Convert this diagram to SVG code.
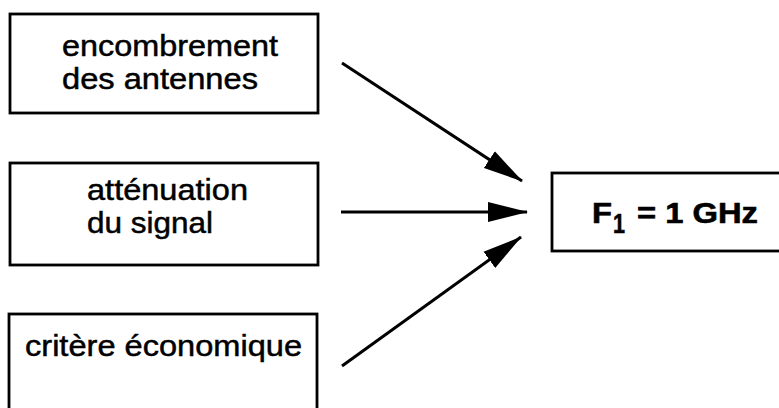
<svg xmlns="http://www.w3.org/2000/svg" width="779" height="408" viewBox="0 0 779 408">
  <style>
    .box { fill: #fff; stroke: #000; stroke-width: 2.8; }
    .lbl { font-family: "Liberation Sans", Arial, Helvetica, sans-serif; font-size: 30px; fill: #000; stroke: #000; stroke-width: 0.5; }
    .bold { font-weight: bold; font-size: 29px; stroke-width: 0.6; }
    .conn { stroke: #000; stroke-width: 3; fill: none; marker-end: url(#arrow); }
  </style>
  <defs>
    <marker id="arrow" markerUnits="userSpaceOnUse" markerWidth="40" markerHeight="22" viewBox="0 0 40 22" refX="39" refY="11" orient="auto">
      <path d="M0,1 L40,11 L0,21 Z" fill="#000"/>
    </marker>
  </defs>
  <rect width="779" height="408" fill="#fff"/>
  <g id="node-encombrement">
    <rect class="box" x="10" y="14" width="308" height="99"/>
    <text class="lbl" x="62" y="56" textLength="216" lengthAdjust="spacingAndGlyphs">encombrement</text>
    <text class="lbl" x="62" y="89" textLength="196" lengthAdjust="spacingAndGlyphs">des antennes</text>
  </g>
  <g id="node-attenuation">
    <rect class="box" x="10" y="163" width="308" height="102"/>
    <text class="lbl" x="87" y="200" textLength="161" lengthAdjust="spacingAndGlyphs">atténuation</text>
    <text class="lbl" x="87" y="233" textLength="126" lengthAdjust="spacingAndGlyphs">du signal</text>
  </g>
  <g id="node-critere">
    <rect class="box" x="9" y="314" width="308" height="110"/>
    <text class="lbl" x="25" y="356" textLength="277" lengthAdjust="spacingAndGlyphs">critère économique</text>
  </g>
  <g id="node-f1">
    <rect class="box" x="552" y="173" width="240" height="78"/>
    <text class="lbl bold" x="592" y="223" textLength="20" lengthAdjust="spacingAndGlyphs">F</text>
    <text class="lbl bold" x="613" y="233" style="font-size:27px" textLength="12" lengthAdjust="spacingAndGlyphs">1</text>
    <text class="lbl bold" x="637" y="223" textLength="121" lengthAdjust="spacingAndGlyphs">= 1 GHz</text>
  </g>
  <g id="connectors">
    <line class="conn" x1="342" y1="63" x2="522" y2="181"/>
    <line class="conn" x1="341" y1="212" x2="527" y2="212"/>
    <line class="conn" x1="342" y1="366" x2="521" y2="237"/>
  </g>
</svg>
